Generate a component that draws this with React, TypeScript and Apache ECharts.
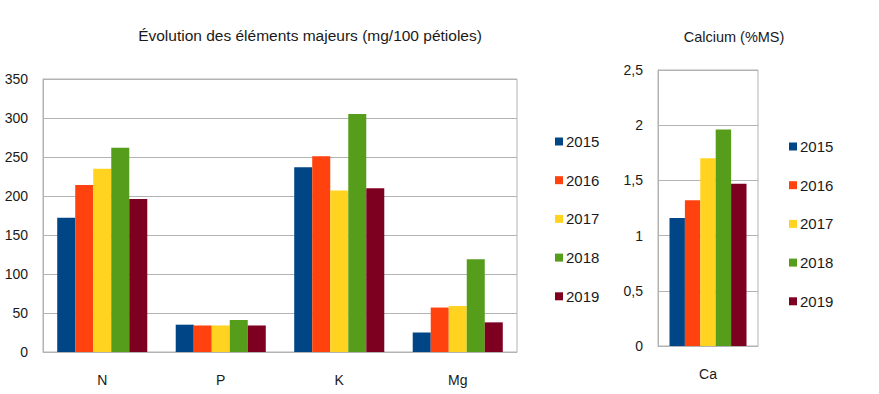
import React, { useEffect, useRef } from "react";
import * as echarts from "echarts";

const majorCategories = ["N", "P", "K", "Mg"];
const caCategories = ["Ca"];
const years = ["2015", "2016", "2017", "2018", "2019"];
const colors = ["#004586", "#ff420e", "#ffd320", "#579d1c", "#7e0021"];

const major2015 = [172, 35, 237, 25];
const major2016 = [214, 34, 251, 57];
const major2017 = [235, 34, 207, 59];
const major2018 = [262, 41, 305, 119];
const major2019 = [196, 34, 210, 38];
const majorValues = [major2015, major2016, major2017, major2018, major2019];

const ca2015 = [1.16];
const ca2016 = [1.32];
const ca2017 = [1.7];
const ca2018 = [1.96];
const ca2019 = [1.47];
const caValues = [ca2015, ca2016, ca2017, ca2018, ca2019];

const FONT = "'Liberation Sans', Arial, sans-serif";
const GRID = "#b3b3b3";
const TXT = "#1a1a1a";

export default function App() {
  const ref = useRef<HTMLDivElement>(null);
  useEffect(() => {
    document.body.style.margin = "0";
    const chart = echarts.init(ref.current!, null, { renderer: "svg" });
    const legendBase = {
      orient: "vertical" as const,
      itemWidth: 8,
      itemHeight: 8,
      itemGap: 23.7,
      icon: "rect",
      data: years,
      selectedMode: false,
      textStyle: { fontFamily: FONT, fontSize: 15, color: TXT, height: 14, padding: [0, 0, 0, -2] },
    };
    chart.setOption({
      animation: false,
      color: colors,
      textStyle: { fontFamily: FONT },
      title: [
        {
          text: "Évolution des éléments majeurs (mg/100 pétioles)",
          left: 305,
          top: 22,
          textAlign: "center",
          textStyle: { fontFamily: FONT, fontSize: 15.5, fontWeight: "normal", color: TXT },
        },
        {
          text: "Calcium (%MS)",
          left: 729,
          top: 24,
          textAlign: "center",
          textStyle: { fontFamily: FONT, fontSize: 14.5, fontWeight: "normal", color: TXT },
        },
      ],
      legend: [
        { ...legendBase, left: 550, top: 129 },
        { ...legendBase, left: 784, top: 134 },
      ],
      grid: [
        { left: 43, top: 79, width: 474, height: 273, show: true, borderColor: GRID, borderWidth: 1 },
        { left: 658, top: 70, width: 100, height: 276, show: true, borderColor: GRID, borderWidth: 1 },
      ],
      xAxis: [
        {
          type: "category",
          gridIndex: 0,
          data: majorCategories,
          axisLine: { lineStyle: { color: GRID } },
          axisTick: { show: false },
          axisLabel: { fontFamily: FONT, fontSize: 14, color: TXT, margin: 21 },
        },
        {
          type: "category",
          gridIndex: 1,
          data: caCategories,
          axisLine: { lineStyle: { color: GRID } },
          axisTick: { show: false },
          axisLabel: { fontFamily: FONT, fontSize: 14, color: TXT, margin: 21 },
        },
      ],
      yAxis: [
        {
          type: "value",
          gridIndex: 0,
          min: 0,
          max: 350,
          interval: 50,
          axisLine: { show: true, lineStyle: { color: GRID } },
          axisTick: { show: false },
          splitLine: { lineStyle: { color: GRID } },
          axisLabel: { fontFamily: FONT, fontSize: 14, color: TXT, margin: 15 },
        },
        {
          type: "value",
          gridIndex: 1,
          min: 0,
          max: 2.5,
          interval: 0.5,
          axisLine: { show: true, lineStyle: { color: GRID } },
          axisTick: { show: false },
          splitLine: { lineStyle: { color: GRID } },
          axisLabel: {
            fontFamily: FONT,
            fontSize: 14,
            color: TXT,
            margin: 15,
            formatter: (v: number) => String(v).replace(".", ","),
          },
        },
      ],
      series: [
        ...years.map((y, i) => ({
          name: y,
          type: "bar",
          xAxisIndex: 0,
          yAxisIndex: 0,
          data: majorValues[i],
          barGap: "0%",
          barCategoryGap: "24%",
          itemStyle: { color: colors[i] },
        })),
        ...years.map((y, i) => ({
          name: y,
          type: "bar",
          xAxisIndex: 1,
          yAxisIndex: 1,
          data: caValues[i],
          barGap: "0%",
          barCategoryGap: "23%",
          itemStyle: { color: colors[i] },
        })),
      ],
    });
    return () => chart.dispose();
  }, []);
  return <div ref={ref} style={{ width: 879, height: 394 }} />;
}
